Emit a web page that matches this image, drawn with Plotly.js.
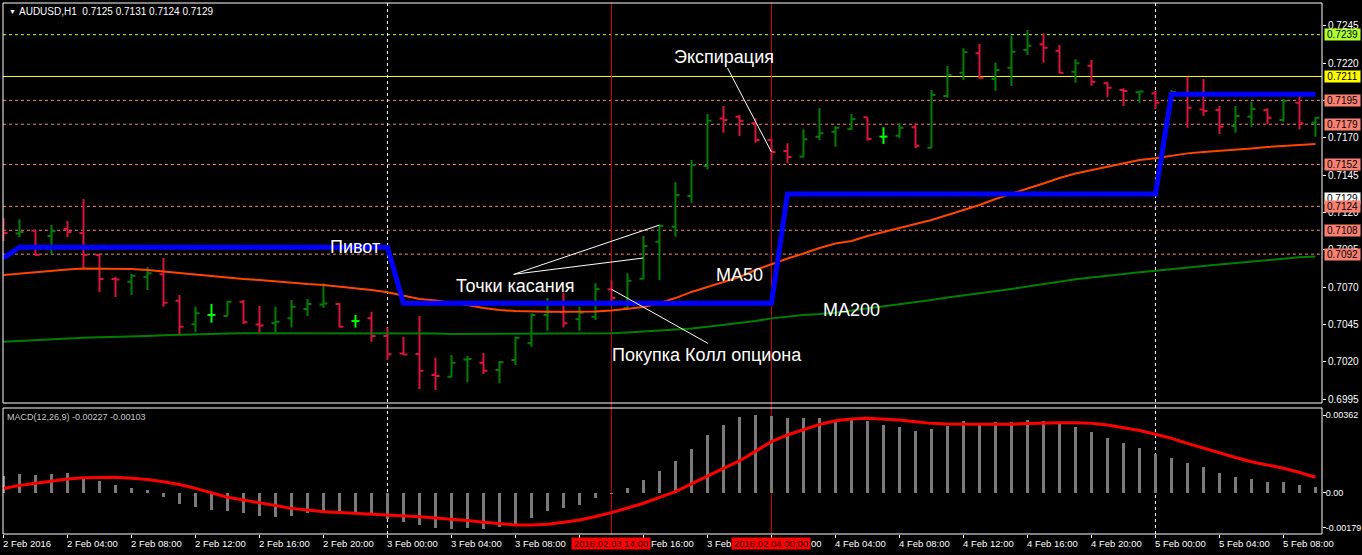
<!DOCTYPE html>
<html><head><meta charset="utf-8">
<script src="https://cdn.plot.ly/plotly-3.0.1.min.js"></script>
<style>html,body{margin:0;padding:0;background:#000;}#chart{width:1362px;height:555px;}</style>
</head><body><div id="chart"></div>
<script>
// ---- AUDUSD H1 bars (2 Feb 2016 00:00 ... 5 Feb 2016 10:00) ----
const open = [0.71135,0.71058,0.71077,0.71042,0.71089,0.71062,0.70914,0.70754,0.70736,0.70769,
0.70785,0.70608,0.70450,0.70513,0.70506,0.70602,0.70449,0.70457,0.70490,0.70553,
0.70583,0.70586,0.70472,0.70490,0.70372,0.70255,0.70251,0.70111,0.70099,0.70215,
0.70193,0.70144,0.70211,0.70323,0.70513,0.70533,0.70484,0.70501,0.70685,0.70559,
0.70756,0.71003,0.71104,0.71310,0.71510,0.71829,0.71841,0.71796,0.71685,0.71611,
0.71573,0.71707,0.71740,0.71760,0.71837,0.71707,0.71713,0.71770,0.71633,0.71979,
0.72135,0.72265,0.72093,0.72169,0.72287,0.72325,0.72283,0.72142,0.72182,0.72064,
0.72019,0.72004,0.71997,0.71941,0.71999,0.71889,0.71885,0.71778,0.71841,0.71885,
0.71818,0.71934,0.71800];
const high = [0.71162,0.71153,0.71079,0.71115,0.71142,0.71289,0.70914,0.70769,0.70787,0.70834,
0.70894,0.70647,0.70568,0.70586,0.70606,0.70613,0.70573,0.70568,0.70613,0.70620,
0.70725,0.70593,0.70513,0.70535,0.70428,0.70367,0.70506,0.70227,0.70245,0.70238,
0.70258,0.70205,0.70367,0.70524,0.70626,0.70662,0.70568,0.70725,0.70745,0.70792,
0.71042,0.71115,0.71401,0.71551,0.71859,0.71912,0.71852,0.71830,0.71689,0.71662,
0.71756,0.71897,0.71778,0.71859,0.71837,0.71770,0.71796,0.71796,0.72019,0.72180,
0.72299,0.72327,0.72202,0.72381,0.72421,0.72399,0.72321,0.72225,0.72220,0.72075,
0.72031,0.72013,0.72013,0.72019,0.72108,0.72093,0.71912,0.71912,0.71941,0.71897,
0.71957,0.71975,0.71837];
const low = [0.71008,0.71033,0.70908,0.70921,0.71035,0.70827,0.70669,0.70633,0.70647,0.70680,
0.70568,0.70385,0.70401,0.70461,0.70506,0.70452,0.70392,0.70401,0.70428,0.70506,
0.70561,0.70428,0.70428,0.70334,0.70211,0.70245,0.70017,0.70010,0.70095,0.70062,
0.70117,0.70055,0.70178,0.70300,0.70407,0.70428,0.70407,0.70479,0.70608,0.70546,
0.70752,0.70747,0.71037,0.71265,0.71488,0.71733,0.71711,0.71666,0.71546,0.71528,
0.71569,0.71685,0.71640,0.71752,0.71680,0.71658,0.71700,0.71629,0.71629,0.71968,
0.72086,0.72093,0.72015,0.72046,0.72254,0.72202,0.72131,0.72068,0.72048,0.71971,
0.71912,0.71934,0.71892,0.71934,0.71767,0.71847,0.71725,0.71733,0.71774,0.71790,
0.71807,0.71756,0.71707];
const close = [0.71062,0.71068,0.70914,0.71075,0.71068,0.70914,0.70754,0.70750,0.70776,0.70792,
0.70595,0.70434,0.70524,0.70513,0.70602,0.70464,0.70442,0.70468,0.70568,0.70586,
0.70590,0.70434,0.70472,0.70372,0.70249,0.70248,0.70140,0.70104,0.70193,0.70218,
0.70140,0.70196,0.70361,0.70513,0.70535,0.70457,0.70528,0.70687,0.70626,0.70742,
0.70975,0.71111,0.71316,0.71517,0.71814,0.71818,0.71814,0.71685,0.71604,0.71571,
0.71689,0.71729,0.71767,0.71823,0.71691,0.71707,0.71767,0.71646,0.71986,0.72120,
0.72272,0.72102,0.72153,0.72276,0.72316,0.72303,0.72135,0.72198,0.72075,0.72035,
0.72013,0.72009,0.71934,0.72006,0.71901,0.71879,0.71774,0.71845,0.71892,0.71834,
0.71948,0.71796,0.71834];

// ---- indicators ----
const pivot = [0.70894,
0.70966,0.70966,0.70966,0.70966,0.70966,0.70966,0.70966,0.70966,0.70966,0.70966,0.70966,0.70966,
0.70966,0.70966,0.70966,0.70966,0.70966,0.70966,0.70966,0.70966,0.70966,0.70966,0.70966,0.70966,
0.70591,0.70591,0.70591,0.70591,0.70591,0.70591,0.70591,0.70591,0.70591,0.70591,0.70591,0.70591,
0.70591,0.70591,0.70591,0.70591,0.70591,0.70591,0.70591,0.70591,0.70591,0.70591,0.70591,0.70591,
0.71323,0.71323,0.71323,0.71323,0.71323,0.71323,0.71323,0.71323,0.71323,0.71323,0.71323,0.71323,
0.71323,0.71323,0.71323,0.71323,0.71323,0.71323,0.71323,0.71323,0.71323,0.71323,0.71323,0.71323,
0.71991,0.71991,0.71991,0.71991,0.71991,0.71991,0.71991,0.71991,0.71991,0.71991];
const ma50 = [0.70780,0.70790,0.70801,0.70811,0.70817,0.70824,0.70824,0.70824,0.70821,0.70814,
0.70804,0.70794,0.70780,0.70770,0.70760,0.70754,0.70747,0.70737,0.70729,0.70720,
0.70714,0.70703,0.70695,0.70680,0.70665,0.70643,0.70620,0.70610,0.70596,0.70580,
0.70559,0.70546,0.70539,0.70535,0.70535,0.70535,0.70535,0.70536,0.70543,0.70553,
0.70566,0.70593,0.70626,0.70667,0.70700,0.70734,0.70767,0.70814,0.70854,0.70891,
0.70924,0.70961,0.70991,0.71008,0.71042,0.71068,0.71095,0.71122,0.71149,0.71182,
0.71216,0.71249,0.71289,0.71326,0.71360,0.71393,0.71430,0.71460,0.71484,0.71506,
0.71530,0.71551,0.71562,0.71581,0.71595,0.71604,0.71611,0.71618,0.71628,0.71638,
0.71644,0.71654,0.71658];
const ma200 = [0.70334,0.70340,0.70345,0.70352,0.70357,0.70360,0.70363,0.70365,0.70367,0.70372,
0.70377,0.70381,0.70385,0.70387,0.70389,0.70390,0.70390,0.70390,0.70390,0.70392,
0.70394,0.70394,0.70394,0.70394,0.70394,0.70394,0.70392,0.70389,0.70385,0.70385,
0.70385,0.70385,0.70385,0.70385,0.70385,0.70385,0.70385,0.70387,0.70390,0.70395,
0.70401,0.70405,0.70412,0.70422,0.70434,0.70446,0.70457,0.70472,0.70490,0.70503,
0.70513,0.70519,0.70528,0.70543,0.70556,0.70573,0.70586,0.70600,0.70613,0.70630,
0.70643,0.70660,0.70673,0.70687,0.70703,0.70720,0.70737,0.70752,0.70764,0.70777,
0.70787,0.70799,0.70809,0.70821,0.70831,0.70841,0.70851,0.70861,0.70871,0.70881,
0.70890,0.70899,0.70904];
const macdHist = [0.00078,0.00087,0.00082,0.00087,0.00092,0.00065,0.00055,0.00036,0.00022,0.00013,
-0.00020,-0.00051,-0.00065,-0.00081,-0.00085,-0.00093,-0.00109,-0.00115,-0.00109,-0.00096,
-0.00096,-0.00096,-0.00096,-0.00096,-0.00121,-0.00135,-0.00150,-0.00163,-0.00169,-0.00163,
-0.00168,-0.00158,-0.00150,-0.00116,-0.00084,-0.00070,-0.00056,-0.00023,-0.00007,0.00020,
0.00059,0.00101,0.00148,0.00202,0.00269,0.00315,0.00351,0.00362,0.00357,0.00347,
0.00347,0.00347,0.00339,0.00339,0.00334,0.00315,0.00305,0.00287,0.00295,0.00311,
0.00334,0.00326,0.00328,0.00328,0.00339,0.00335,0.00323,0.00305,0.00281,0.00253,
0.00230,0.00207,0.00180,0.00160,0.00140,0.00118,0.00093,0.00072,0.00062,0.00050,
0.00050,0.00036,0.00025];
const macdSignal = [0.00020,0.00034,0.00044,0.00055,0.00064,0.00070,0.00072,0.00072,0.00067,0.00061,
0.00051,0.00038,0.00020,0.00001,-0.00021,-0.00034,-0.00047,-0.00060,-0.00073,-0.00081,
-0.00089,-0.00092,-0.00096,-0.00098,-0.00101,-0.00106,-0.00112,-0.00118,-0.00123,-0.00130,
-0.00138,-0.00144,-0.00150,-0.00150,-0.00147,-0.00138,-0.00127,-0.00111,-0.00093,-0.00071,
-0.00049,-0.00022,0.00005,0.00041,0.00078,0.00113,0.00148,0.00194,0.00238,0.00269,
0.00295,0.00318,0.00335,0.00343,0.00347,0.00343,0.00339,0.00331,0.00323,0.00320,
0.00319,0.00318,0.00318,0.00319,0.00322,0.00325,0.00326,0.00326,0.00323,0.00315,
0.00304,0.00290,0.00272,0.00253,0.00230,0.00207,0.00184,0.00164,0.00144,0.00129,
0.00114,0.00094,0.00072];

// ---- axis labels / levels ----
const timeTickIdx = [0,4,8,12,16,20,24,28,32,36,40,44,48,52,56,60,64,68,72,76,80];
const timeTickLabels = ['2 Feb 2016','2 Feb 04:00','2 Feb 08:00','2 Feb 12:00','2 Feb 16:00','2 Feb 20:00',
'3 Feb 00:00','3 Feb 04:00','3 Feb 08:00','3 Feb 12:00','3 Feb 16:00','3 Feb 20:00',
'4 Feb 00:00','4 Feb 04:00','4 Feb 08:00','4 Feb 12:00','4 Feb 16:00','4 Feb 20:00',
'5 Feb 00:00','5 Feb 04:00','5 Feb 08:00'];
const priceTicks = [0.7245,0.7220,0.7195,0.7170,0.7145,0.7120,0.7095,0.7070,0.7045,0.7020,0.6995];
const levelPrices = [0.7239,0.7211,0.7195,0.7179,0.7152,0.7124,0.7108,0.7092];
const levelColors = ['#adff2f','#ffff00','#fa8072','#fa8072','#fa8072','#fa8072','#fa8072','#fa8072'];
const levelDash = ['dash','solid','dash','dash','dash','dash','dash','dash'];
const bidPrice = 0.7129;
const separatorIdx = [24,72];
const markerIdx = [38,48];
const markerLabels = ['2016.02.03 14:00','2016.02.04 00:00'];
const macdTickVals = [0.00362,0,-0.00163];
const macdTickText = ['0.00362','0.00','-0.00179'];
// parts of the time labels left visible around the red marker labels
const timeLabelVisible = {36: null, 40: {text:'Feb 16:00', x:40.48}, 44: {text:'3 Feb', x:44}, 48: {text:'00', x:50.48}};

// ---- build ----
const idx = open.map((_, i) => i);
const isDoji = open.map((o, i) => o === close[i]);
const nz = a => a.map((v, i) => isDoji[i] ? null : v);
const dojiX = [], dojiY = [];
idx.forEach(i => { if (isDoji[i]) {
  dojiX.push(i, i, null, i - 0.25, i + 0.25, null);
  dojiY.push(low[i], high[i], null, open[i], open[i], null);
}});

const FONT = 'Liberation Sans, Arial, sans-serif';
const traces = [
  {type:'ohlc', x: idx, open: nz(open), high: nz(high), low: nz(low), close: nz(close),
   increasing:{line:{color:'#008000', width:2}}, decreasing:{line:{color:'#dc143c', width:2}},
   tickwidth:0.25, hoverinfo:'skip', xaxis:'x', yaxis:'y'},
  {type:'scatter', mode:'lines', x: dojiX, y: dojiY, line:{color:'#00ff00', width:2}, hoverinfo:'skip', connectgaps:false},
  {type:'scatter', mode:'lines', x: idx, y: ma200, line:{color:'#008000', width:2}, hoverinfo:'skip'},
  {type:'scatter', mode:'lines', x: idx, y: ma50, line:{color:'#ff4500', width:2}, hoverinfo:'skip'},
  {type:'scatter', mode:'lines', x: idx, y: pivot, line:{color:'#0000ff', width:5}, hoverinfo:'skip'},
  {type:'bar', x: idx, y: macdHist, yaxis:'y2', width:0.15, marker:{color:'#7a7a7a', line:{width:0}}, hoverinfo:'skip'},
  {type:'scatter', mode:'lines', x: idx, y: macdSignal, yaxis:'y2', line:{color:'#ff0000', width:3}, hoverinfo:'skip'}
];

const H = 555, T = 3, B = 21, L = 3, R = 40;
const plotH = H - T - B;           // 531
const plotW = 1362 - L - R;        // 1319
const py = y => (H - B - y) / plotH;   // pixel y -> paper
const px = x => (x - L) / plotW;       // pixel x -> paper
const mainDom = [py(403), 1];
const macdDom = [0, py(408)];

const shapes = [];
levelPrices.forEach((p, k) => shapes.push({type:'line', xref:'paper', x0:0, x1:1, yref:'y', y0:p, y1:p,
  line:{color:levelColors[k], width:1, dash: levelDash[k] === 'dash' ? '3px,3px' : 'solid'}, layer:'below'}));
separatorIdx.forEach(i => shapes.push({type:'line', xref:'x', x0:i, x1:i, yref:'paper', y0:0, y1:1,
  line:{color:'#ffffff', width:1, dash:'3px,3px'}, layer:'below'}));
markerIdx.forEach(i => shapes.push({type:'line', xref:'x', x0:i, x1:i, yref:'paper', y0:0, y1:1,
  line:{color:'#d00000', width:1}, layer:'below'}));
// callout lines (trend-line objects)
[[31.89,0.70785,41,high[41]],[31.89,0.70785,39.98,0.70894],[38,open[38],44.02,0.70323],[45.25,0.72167,48,close[48]]]
 .forEach(s => shapes.push({type:'line', xref:'x', yref:'y', x0:s[0], y0:s[1], x1:s[2], y1:s[3],
   line:{color:'#ffffff', width:1}, layer:'above'}));
// panel borders
shapes.push({type:'rect', xref:'paper', yref:'paper', x0:0, x1:1, y0:mainDom[0], y1:1, line:{color:'#ffffff', width:1}});
shapes.push({type:'rect', xref:'paper', yref:'paper', x0:0, x1:1, y0:0, y1:macdDom[1], line:{color:'#ffffff', width:1}});

const ann = [];
const txt = (text, x, y, extra) => Object.assign({text, x, y, xref:'x', yref:'y', showarrow:false,
  xanchor:'center', yanchor:'middle', font:{family:FONT, size:18, color:'#ffffff'}}, extra || {});
ann.push(txt('Пивот', 22.0, 0.70965));
ann.push(txt('Точки касания', 31.97, 0.70707));
ann.push(txt('Покупка Колл опциона', 44.0, 0.70248));
ann.push(txt('MA50', 45.97, 0.70780));
ann.push(txt('MA200', 53.03, 0.70543));
ann.push(txt('Экспирация', 45.06, 0.72240));

// price level labels on the right scale
const lvlLabel = (p, bg) => ({text: p.toFixed(4), xref:'paper', x: px(1324), xanchor:'left', yref:'y', y:p, yanchor:'middle',
  showarrow:false, bgcolor:bg, width:33, height:9, borderpad:1, align:'center',
  font:{family:FONT, size:10, color:'#000000'}});
ann.push(lvlLabel(bidPrice, '#ffffff'));
levelPrices.forEach((p, k) => ann.push(lvlLabel(p, levelColors[k])));

// time labels
timeTickIdx.forEach((i, k) => {
  let text = timeTickLabels[k], x = i;
  if (i in timeLabelVisible) {
    const v = timeLabelVisible[i];
    if (!v) return;
    text = v.text; x = v.x;
  }
  ann.push({text, xref:'x', x, xanchor:'left', xshift:-2,
    yref:'paper', y: py(543.5), yanchor:'middle', showarrow:false, font:{family:FONT, size:9.5, color:'#ffffff'}});
});
markerIdx.forEach((i, k) => ann.push({text: markerLabels[k], xref:'x', x:i, xanchor:'center',
  yref:'paper', y: py(543.5), yanchor:'middle', showarrow:false, bgcolor:'#ff0000', width:76, height:9, borderpad:1,
  font:{family:FONT, size:9.5, color:'#200000'}}));

// headers
ann.push({text:'▼', xref:'paper', x: px(7), xanchor:'left', yref:'paper', y: py(11), yanchor:'middle', showarrow:false,
  font:{family:FONT, size:7, color:'#ffffff'}});
ann.push({text:'AUDUSD,H1\u00a0\u00a00.7125 0.7131 0.7124 0.7129', xref:'paper', x: px(17), xanchor:'left', yref:'paper', y: py(11),
  yanchor:'middle', showarrow:false, font:{family:FONT, size:10, color:'#ffffff'}});
ann.push({text:'MACD(12,26,9) -0.00227 -0.00103', xref:'paper', x: px(5), xanchor:'left', yref:'paper', y: py(417),
  yanchor:'middle', showarrow:false, font:{family:FONT, size:9, color:'#c8c8c8'}});

const layout = {
  width:1362, height:555, margin:{l:L, r:R, t:T, b:B, pad:0},
  paper_bgcolor:'#000000', plot_bgcolor:'#000000', showlegend:false, dragmode:false,
  xaxis:{range:[-0.03, 82.4075], anchor:'y2', showgrid:false, zeroline:false, showline:false,
    tickvals: timeTickIdx, ticks:'outside', ticklen:3, tickcolor:'#ffffff', showticklabels:false,
    rangeslider:{visible:false}, fixedrange:true},
  yaxis:{domain: mainDom, range:[0.699232, 0.726020], side:'right', anchor:'x', showgrid:false, zeroline:false,
    tickvals: priceTicks, ticktext: priceTicks.map(v => levelPrices.includes(v) ? '' : v.toFixed(4)),
    ticks:'outside', ticklen:3, tickcolor:'#ffffff',
    tickfont:{family:FONT, size:10, color:'#ffffff'}, showline:false, fixedrange:true},
  yaxis2:{domain: macdDom, range:[-0.001924, 0.003946], side:'right', anchor:'x', showgrid:false, zeroline:false,
    tickvals: macdTickVals, ticktext: macdTickText, ticks:'outside', ticklen:3, tickcolor:'#ffffff',
    ticklabelstandoff:-2,
    tickfont:{family:FONT, size:9, color:'#ffffff'}, showline:false, fixedrange:true},
  shapes, annotations: ann, bargap:0
};
Plotly.newPlot('chart', traces, layout, {displayModeBar:false, staticPlot:true});
</script></body></html>
